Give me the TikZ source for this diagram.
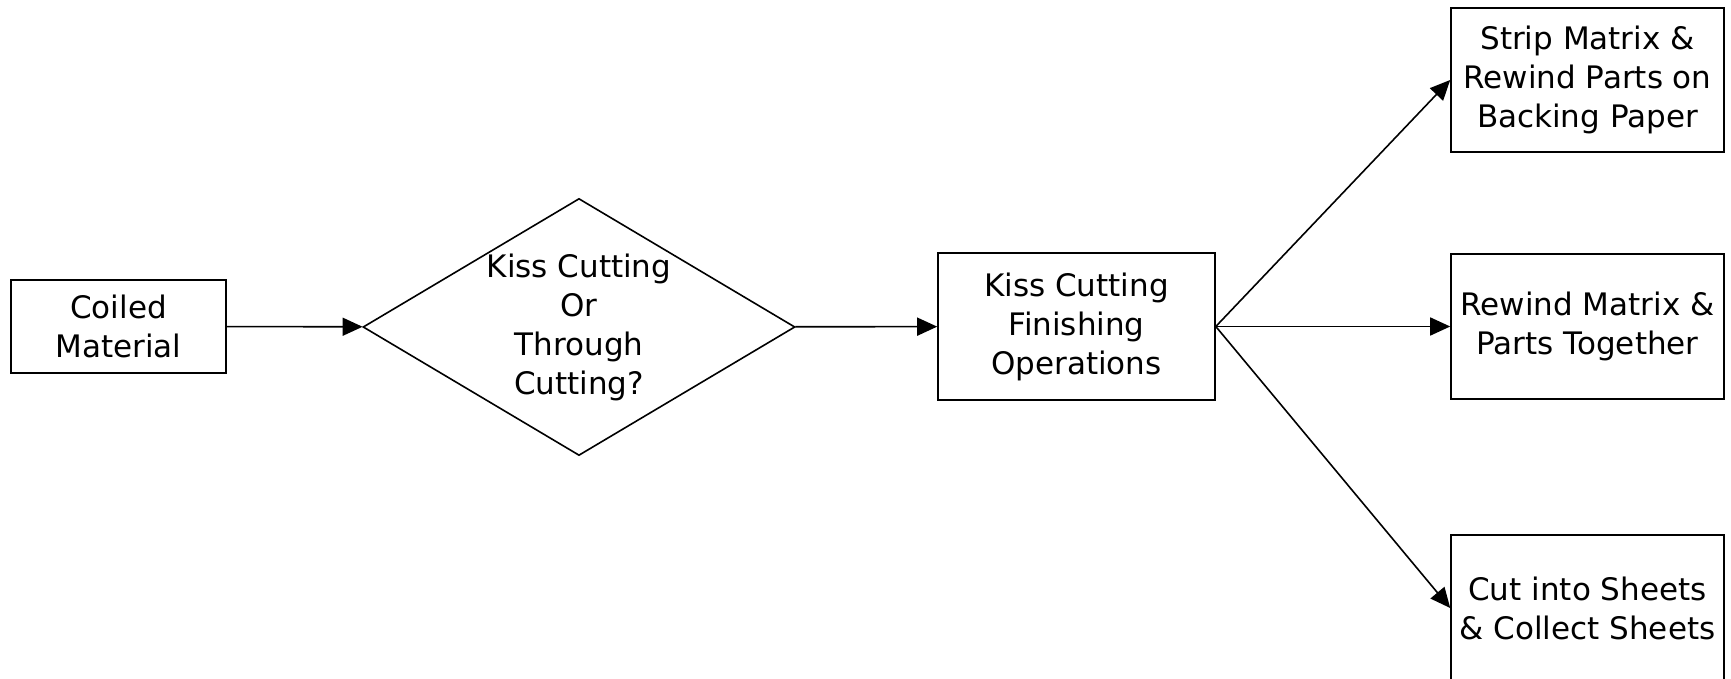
\documentclass[tikz,border=0pt]{standalone}
\usepackage{fontspec}
\setmainfont{DejaVu Sans}
\usetikzlibrary{arrows.meta, shapes.geometric}

\begin{document}
\begin{tikzpicture}[
x=0.5pt, y=-0.5pt,
line width=0.8pt,
every node/.style={
font=\fontsize{15.5pt}{19.5pt}\selectfont,
align=center,
},
procbox/.style={
rectangle,
draw,
inner sep=0 pt,
},
decnode/.style={
diamond,
draw,
inner sep=-10 pt,
minimum width=216 pt,
minimum height=128.5 pt,
},
flow/.style={-{Triangle[length=10pt, width=9pt]}},
]
\useasboundingbox (0,0) rectangle (1731,679);
\clip (0,0) rectangle (1731,679);

% boxes
\node [procbox, minimum width=107.5 pt, minimum height=46.5 pt] at (118.5,326.5) (coil)
{Coiled\\Material};
\node [decnode] at (579,327) (choice)
{Kiss Cutting\\Or\\Through\\Cutting?};
\node [procbox, minimum width=138.5 pt, minimum height=73.5 pt] at (1076.5,326.5) (kiss)
{Kiss Cutting\\Finishing\\Operations};

% finishing boxes
\node [procbox, minimum width=136.5 pt, minimum height=72 pt] at (1587.5,80) (strip)
{Strip Matrix \&\\Rewind Parts on\\Backing Paper};
\node [procbox, minimum width=136.5 pt, minimum height=72.5 pt] at (1587.5,326.5) (rewind)
{Rewind Matrix \&\\Parts Together};
\node [procbox, minimum width=136.5 pt, minimum height=73 pt] at (1587.5,608) (sheets)
{Cut into Sheets\\\& Collect Sheets};

% arrows
\draw [flow] (coil) -- (choice);
\draw [flow] (choice) -- (kiss);
\draw [flow] (kiss.east) -- (strip.west);
\draw [flow] (kiss.east) -- (rewind.west);
\draw [flow] (kiss.east) -- (sheets.west);

\end{tikzpicture}
\end{document}
